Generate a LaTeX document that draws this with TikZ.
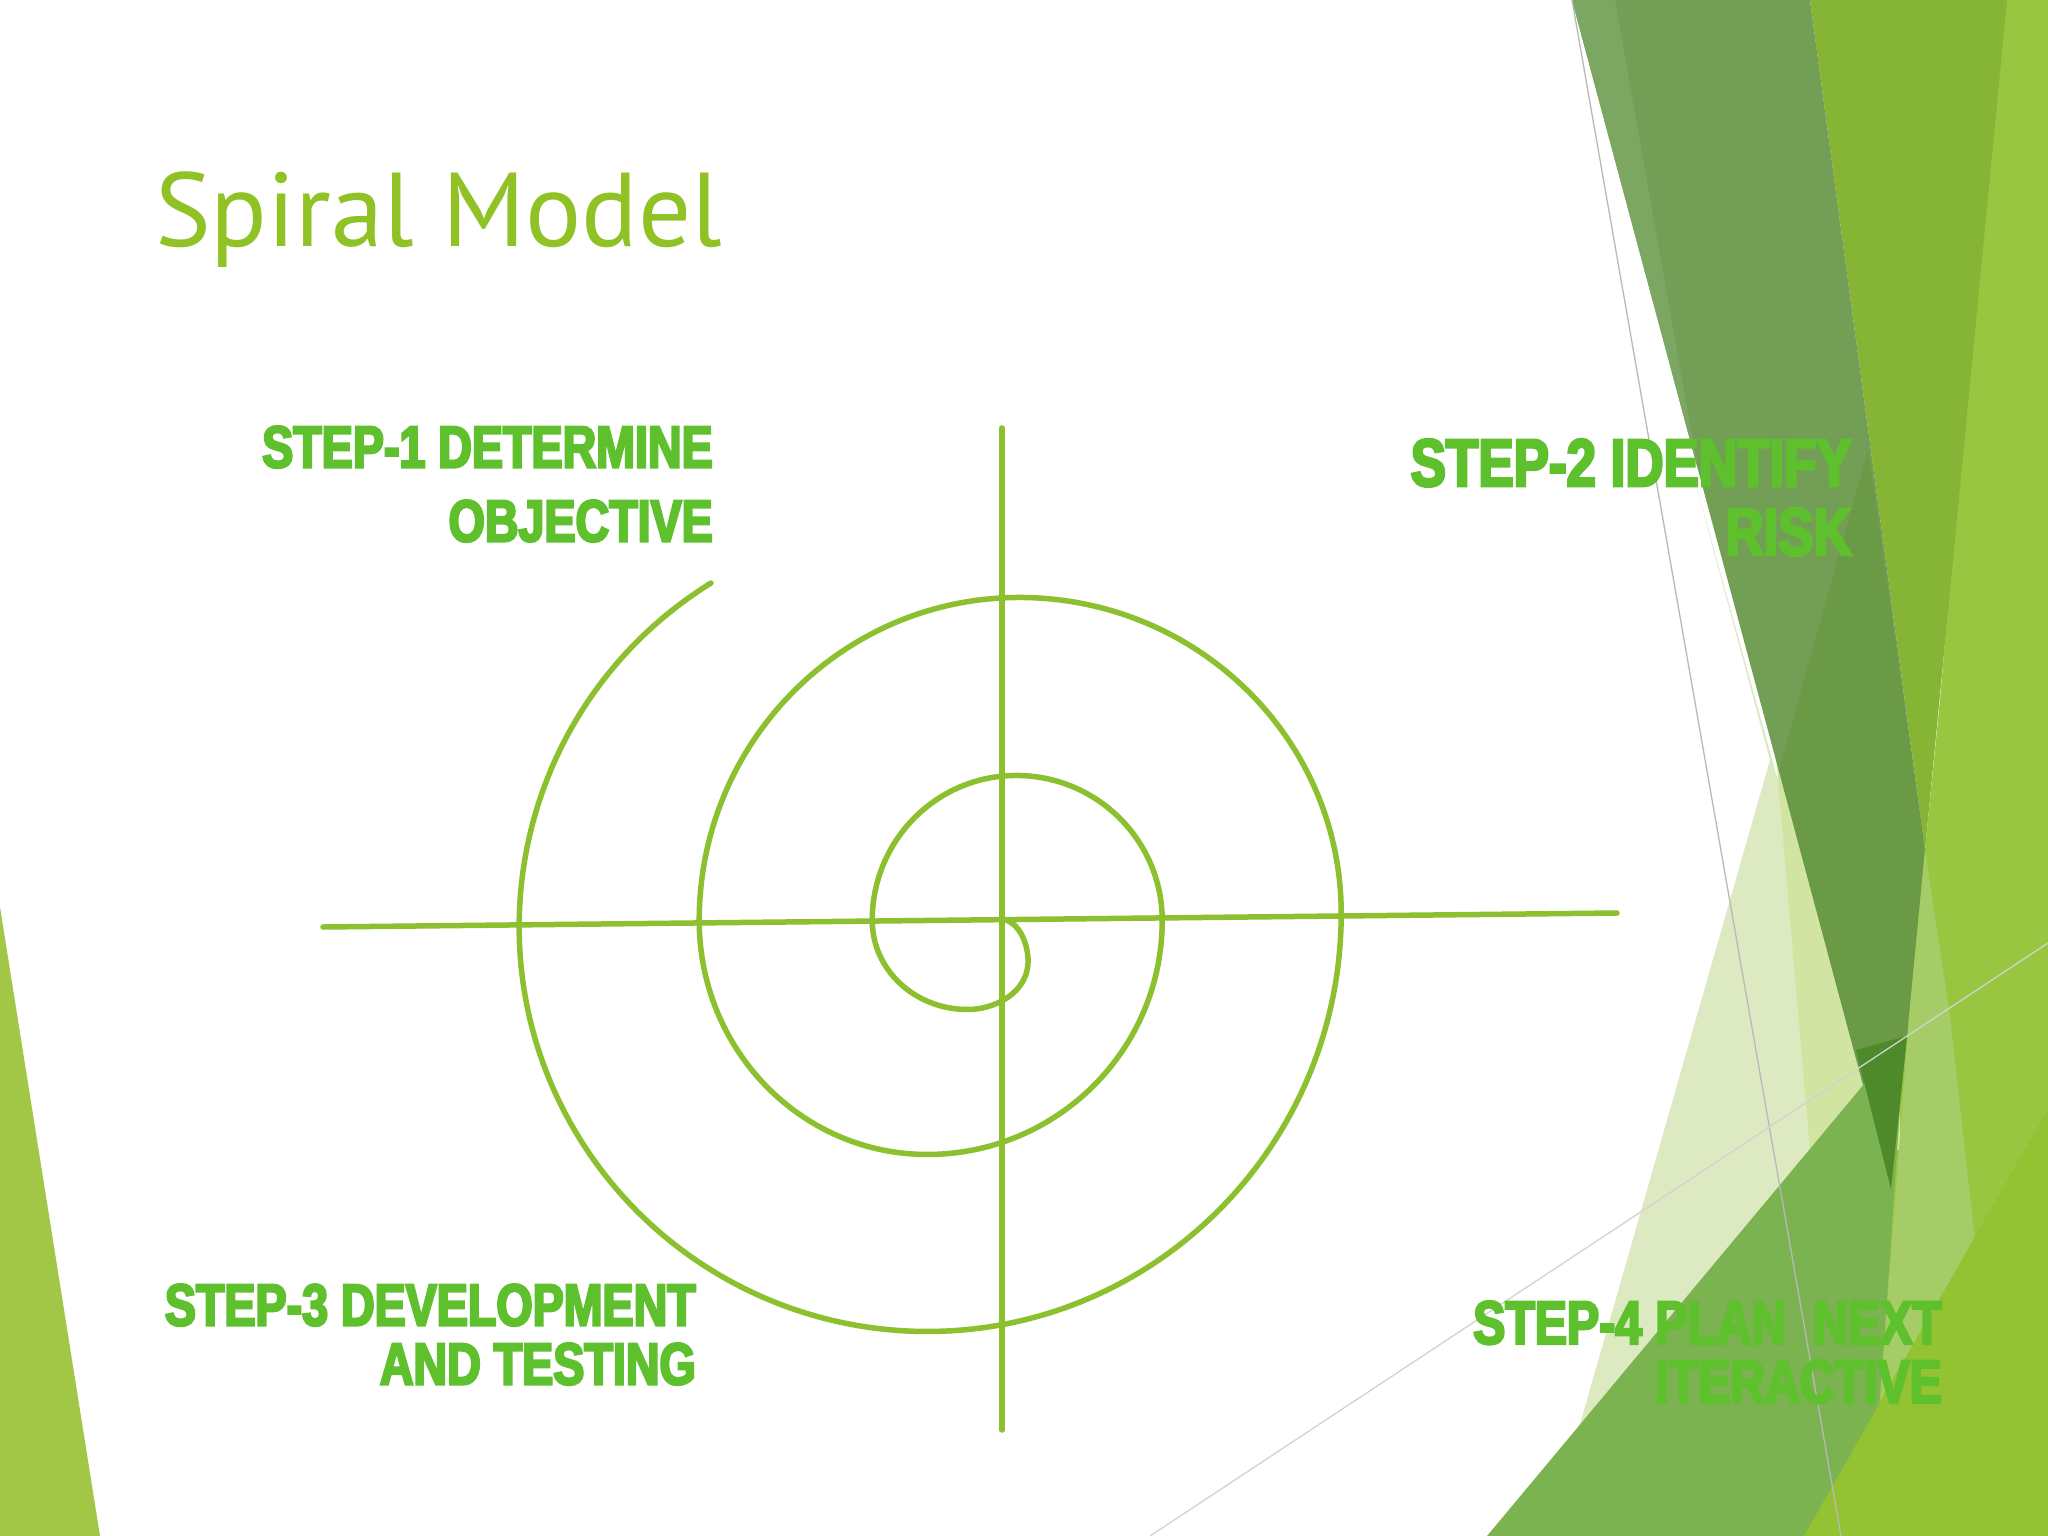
\documentclass[tikz,border=0pt]{standalone}
\usepackage{fontspec}
\setmainfont{PT Sans}
\newfontfamily\titlefont{PT Sans}
\newfontfamily\wordart{Liberation Sans}[FakeStretch=0.79, BoldFeatures={FakeBold=4}]
\usepackage{tikz}

\definecolor{facet}{HTML}{90C226}
\definecolor{spiralgreen}{HTML}{8CC02E}
\definecolor{stepgreen}{HTML}{5EC02C}
\definecolor{leftgreen}{HTML}{A2C747}
\definecolor{lightband}{HTML}{99C640}
\definecolor{brightband}{HTML}{86B535}
\definecolor{palewedge}{HTML}{DDE9C0}
\definecolor{palemid}{HTML}{D1E4A2}
\definecolor{palelight}{HTML}{A5CC66}
\definecolor{darkband}{HTML}{739E55}
\definecolor{stripgreen}{HTML}{7CA763}
\definecolor{darkover}{HTML}{6A9A45}
\definecolor{midtri}{HTML}{7BB350}
\definecolor{deepgreen}{HTML}{4E8A2A}
\definecolor{cornergreen}{HTML}{93C232}

\tikzset{
  axis/.style={line width=5.5pt, spiralgreen, line cap=round},
  steplabel/.style={inner sep=0pt, anchor=north east, align=right, text=stepgreen}
}

\begin{document}
\begin{tikzpicture}[x=1pt, y=-1pt]
\useasboundingbox (0,0) rectangle (2048,1536);
\fill[white] (0,0) rectangle (2048,1536);

% Facets, left
\fill[leftgreen] (0,907) -- (100,1536) -- (0,1536) -- cycle;

% Facets, right
\fill[lightband] (2000,0) -- (2048,0) -- (2048,1536) -- (1700,1536) -- (1900,1100) -- (1940,700) -- cycle;
\fill[brightband] (1810,0) -- (2007,0) -- (1925,850) -- cycle;
\fill[palewedge] (1692,470) -- (1770,760) -- (1548,1536) -- (1850,1536) -- (1891,1189) -- cycle;
\fill[palemid] (1776,757) -- (1810,1150) -- (1900,1150) -- (1900,757) -- cycle;
\fill[darkband] (1572,0) -- (1810,0) -- (1925,850) -- (1909,1016) -- (1891,1189) -- cycle;
\fill[stripgreen] (1572,0) -- (1615,0) -- (1698,470) -- cycle;
\fill[darkover] (1868,450) -- (1779,770) -- (1891,1189) -- (1909,1016) -- (1925,850) -- cycle;
\fill[palelight] (1925,850) -- (1950,1016) -- (1975,1240) -- (1880,1400) -- (1909,1016) -- cycle;
\fill[midtri] (1487,1536) -- (1905,1035) -- (1888,1283) -- (1870,1536) -- cycle;
\fill[deepgreen] (1856,1050) -- (1907,1036) -- (1891,1189) -- cycle;
\fill[cornergreen] (1804,1536) -- (2048,1109) -- (2048,1536) -- cycle;
\draw[gray!55, line width=1.3pt] (1572,0) -- (1841,1536);
\draw[gray!35, line width=1.3pt] (1150,1536) -- (2048,943);

% Title
\node[anchor=base west, inner sep=0pt, text=facet,
      font=\titlefont\fontsize{105}{110}\selectfont] (title) at (155,246) {Spiral Model};

% Axes
\coordinate (vtop) at (1002,428);
\coordinate (vbot) at (1002,1430);
\coordinate (hleft) at (323,927);
\coordinate (hright) at (1617,913);
\draw[axis] (vtop) -- (vbot);
\draw[axis] (hleft) -- (hright);

% Spiral
\coordinate (spstart) at (711,583);
\coordinate (spend) at (1002,919);
\draw[axis] (spstart)
  arc[start angle=238, end angle=90, x radius=408, y radius=405]
  arc[start angle=90, end angle=0, x radius=414, y radius=418]
  arc[start angle=0, end angle=-90, x radius=322, y radius=316]
  arc[start angle=270, end angle=180, x radius=320, y radius=323]
  arc[start angle=180, end angle=90, x radius=228, y radius=234]
  arc[start angle=90, end angle=0, x radius=235, y radius=234]
  arc[start angle=0, end angle=-90, x radius=146, y radius=145]
  arc[start angle=270, end angle=180, x radius=144, y radius=145]
  arc[start angle=180, end angle=90, x radius=95, y radius=89]
  .. controls (992,1010) and (1030,994) .. (1028,958)
  .. controls (1026,932) and (1012,920) .. (spend);

% Steps
\node[steplabel, font=\wordart\bfseries\fontsize{59}{74}\selectfont] (stepone) at (713,426)
  {STEP-1 DETERMINE\\OBJECTIVE};
\node[steplabel, font=\wordart\bfseries\fontsize{67}{69}\selectfont] (steptwo) at (1852,439)
  {STEP-2 IDENTIFY\\RISK};
\node[steplabel, font=\wordart\bfseries\fontsize{59}{59}\selectfont] (stepthree) at (696,1284)
  {STEP-3 DEVELOPMENT\\AND TESTING};
\node[steplabel, font=\wordart\bfseries\fontsize{61}{59}\selectfont] (stepfour) at (1942,1301)
  {STEP-4 PLAN~~NEXT\\ITERACTIVE};
\end{tikzpicture}
\end{document}
